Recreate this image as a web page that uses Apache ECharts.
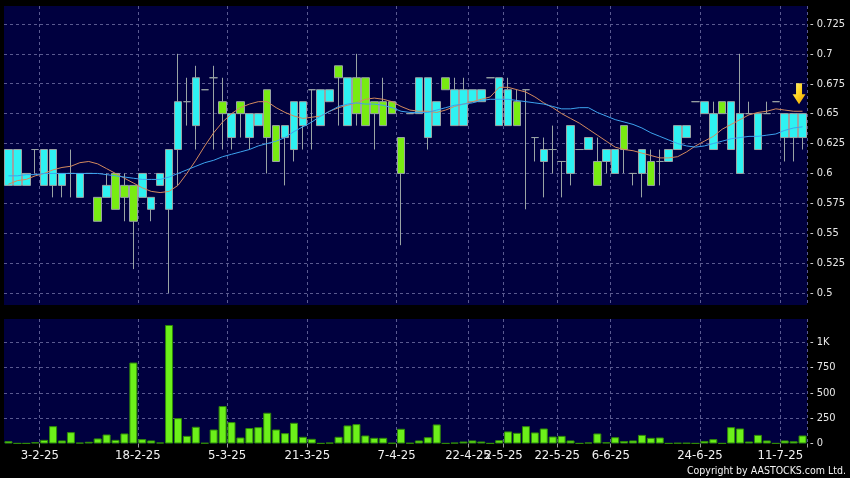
<!DOCTYPE html>
<html><head><meta charset="utf-8">
<script src="https://cdn.jsdelivr.net/npm/echarts@6/dist/echarts.min.js"></script>
<style>html,body{margin:0;padding:0;background:#000;}#c{width:850px;height:478px;}</style>
</head><body><div id="c"></div>
<script>
// ---- data (slot index = trading session) ----
const categories = Array.from({length: 90}, (_, i) => String(i));
const tickSlots  = [3, 14, 24, 33, 43, 51, 55, 61, 67, 77, 86];
const tickLabels = ['3-2-25','18-2-25','5-3-25','21-3-25','7-4-25','22-4-25','2-5-25','22-5-25','6-6-25','24-6-25','11-7-25'];
const priceTicks = [0.5, 0.525, 0.55, 0.575, 0.6, 0.625, 0.65, 0.675, 0.7, 0.725];
const volTicks   = [0, 250, 500, 750, 1000];

const opens  = [.59,.59,.59,.62,.59,.59,.59,.60,.58,.60, .58,.58,.60,.59,.59,.58,.57,.59,.57,.62,
                .66,.64,.67,.68,.66,.63,.66,.63,.64,.67, .64,.63,.62,.64,.67,.64,.66,.69,.64,.68,
                .68,.66,.66,.66,.63,.65,.65,.63,.64,.68, .64,.64,.66,.66,.68,.64,.64,.66,.67,.63,
                .61,.62,.61,.60,.62,.62,.61,.61,.60,.64, .60,.60,.61,.61,.61,.62,.63,.66,.65,.62,
                .66,.62,.60,.65,.62,.65,.66,.63,.63,.63];
const closes = [.62,.62,.60,.62,.62,.62,.60,.60,.60,.60, .56,.59,.57,.58,.56,.60,.58,.60,.62,.66,
                .66,.68,.67,.68,.65,.65,.65,.65,.65,.63, .61,.64,.66,.66,.67,.67,.67,.68,.68,.65,
                .64,.65,.64,.65,.60,.65,.68,.68,.66,.67, .67,.67,.67,.67,.68,.68,.67,.64,.67,.63,
                .62,.62,.61,.64,.62,.63,.59,.62,.62,.62, .60,.62,.59,.61,.62,.64,.64,.66,.66,.65,
                .65,.66,.65,.65,.65,.65,.66,.65,.65,.65];
const lows   = [.59,.59,.59,.60,.59,.58,.58,.58,.58,.60, .56,.58,.57,.56,.52,.58,.56,.59,.50,.59,
                .64,.62,.67,.62,.62,.62,.63,.62,.64,.60, .61,.59,.61,.62,.62,.64,.66,.64,.64,.64,
                .64,.62,.64,.65,.54,.65,.65,.62,.64,.67, .64,.64,.66,.66,.68,.64,.64,.64,.57,.61,
                .58,.60,.58,.59,.62,.62,.59,.60,.60,.60, .59,.58,.59,.59,.61,.62,.63,.66,.65,.62,
                .65,.62,.60,.65,.62,.65,.66,.61,.61,.62];
const highs  = [.62,.62,.60,.62,.62,.62,.60,.62,.60,.60, .58,.60,.60,.60,.59,.60,.58,.60,.62,.70,
                .68,.69,.67,.69,.68,.65,.66,.65,.65,.67, .64,.64,.66,.66,.67,.67,.67,.69,.68,.70,
                .68,.66,.68,.66,.63,.65,.68,.68,.66,.68, .68,.68,.67,.67,.68,.68,.68,.67,.67,.63,
                .63,.64,.61,.64,.62,.63,.63,.62,.62,.64, .60,.62,.62,.62,.62,.64,.64,.66,.66,.66,
                .66,.66,.70,.66,.65,.66,.66,.65,.65,.65];
const maShort = [.591,.594,.595,.598,.600,.603,.605,.606,.609,.610, .608,.604,.600,.596,.592,.588,.585,.584,.585,.590,
                 .600,.611,.623,.634,.643,.650,.655,.658,.660,.660, .655,.651,.648,.646,.647,.648,.652,.655,.657,.659,
                 .662,.663,.662,.660,.656,.653,.652,.652,.651,.653, .656,.658,.660,.662,.664,.672,.672,.670,.668,.664,
                 .659,.655,.650,.646,.642,.637,.632,.627,.622,.620, .619,.617,.615,.613,.613,.614,.618,.623,.627,.631,
                 .637,.641,.645,.649,.651,.652,.654,.653,.652,.652];
const maLong  = [.598,.598,.599,.599,.600,.600,.600,.600,.600,.600, .600,.599,.598,.597,.596,.595,.595,.595,.597,.600,
                 .603,.606,.609,.611,.614,.616,.618,.620,.623,.625, .627,.630,.635,.639,.643,.648,.652,.656,.658,.659,
                 .658,.658,.657,.655,.652,.651,.651,.651,.653,.655, .657,.658,.659,.661,.662,.662,.662,.661,.660,.659,
                 .658,.656,.654,.654,.655,.655,.651,.648,.645,.643, .641,.638,.634,.631,.628,.625,.623,.622,.623,.625,
                 .627,.629,.630,.631,.631,.632,.633,.636,.638,.639];
const volumes = [23,2,2,13,36,171,30,112,8,17, 50,89,36,99,798,43,30,10,1168,250,
                 75,165,5,138,369,211,59,152,161,303, 138,102,204,66,46,2,8,66,178,191,
                 79,56,56,5,145,5,30,62,188,2, 8,20,30,20,2,33,119,105,171,109,
                 148,69,75,30,2,10,99,12,62,25, 30,85,56,59,2,5,5,2,25,43,
                 2,161,148,20,85,30,2,30,22,79];
const markerSlot = 89, markerPrice = 0.6667;

// ---- chart ----
const FONT = "'DejaVu Sans Condensed','DejaVu Sans',sans-serif";
const gridCats = new Set(tickSlots.map(s => s + 1));
const labelMap = new Map(tickSlots.map((s, k) => [s, tickLabels[k]]));
const dash = {color: '#5a5a90', type: [3, 3], width: 1};
const candleData = opens.map((o, i) => [o, closes[i], lows[i], highs[i]]);
const fmtP = v => '- ' + String(parseFloat(v.toFixed(3)));
const fmtV = v => '- ' + (v >= 1000 ? (v / 1000) + 'K' : String(v));

const chart = echarts.init(document.getElementById('c'), null, {renderer: 'canvas'});
chart.setOption({
  backgroundColor: '#000',
  animation: false,
  grid: [
    {left: 4, top: 6, width: 803, height: 299, show: true, backgroundColor: '#00003f', borderWidth: 0},
    {left: 4, top: 319, width: 803, height: 124.5, show: true, backgroundColor: '#00003f', borderWidth: 0}
  ],
  xAxis: [
    {type: 'category', gridIndex: 0, data: categories, boundaryGap: true,
     axisLine: {show: false}, axisTick: {show: false}, axisLabel: {show: false},
     splitLine: {show: true, interval: i => gridCats.has(i), lineStyle: dash}},
    {type: 'category', gridIndex: 1, data: categories, boundaryGap: true,
     axisLine: {show: false},
     axisTick: {show: true, length: 4, interval: i => gridCats.has(i), lineStyle: {color: '#9a9a9a'}},
     axisLabel: {interval: i => labelMap.has(i), formatter: (v, i) => labelMap.get(i) || '',
                 color: '#f0f0f0', fontSize: 13, fontFamily: FONT, margin: 6, padding: [0, 0, 0, 9]},
     splitLine: {show: true, interval: i => gridCats.has(i), lineStyle: dash}}
  ],
  yAxis: [
    {type: 'value', gridIndex: 0, position: 'right', min: 0.49, max: 0.74, minInterval: 0.025, maxInterval: 0.025,
     axisLine: {show: false}, axisTick: {show: false},
     axisLabel: {formatter: fmtP, showMinLabel: false, showMaxLabel: false, color: '#e8e8e8', fontSize: 11, fontFamily: FONT, margin: 3},
     splitLine: {show: true, showMinLine: false, showMaxLine: false, lineStyle: dash}},
    {type: 'value', gridIndex: 1, position: 'right', min: 0, max: 1227, minInterval: 250, maxInterval: 250,
     axisLine: {show: false}, axisTick: {show: false},
     axisLabel: {formatter: fmtV, showMaxLabel: false, color: '#e8e8e8', fontSize: 11, fontFamily: FONT, margin: 3},
     splitLine: {show: true, showMinLine: false, showMaxLine: false, lineStyle: dash}}
  ],
  series: [
    {type: 'candlestick', xAxisIndex: 0, yAxisIndex: 0, data: candleData, barWidth: 8,
     itemStyle: {color: '#2ef2f2', color0: '#78ec12', borderColor: '#9aa4a4', borderColor0: '#9aa4a4', borderWidth: 1},
     markPoint: {
       symbol: 'path://M3.5,0 L9.5,0 L9.5,11 L13,11 L6.5,21 L0,11 L3.5,11 Z',
       symbolSize: [13, 21], symbolOffset: [-3.5, 0], label: {show: false},
       itemStyle: {color: {type: 'linear', x: 0, y: 0, x2: 1, y2: 1,
         colorStops: [{offset: 0, color: '#fff27a'}, {offset: 0.5, color: '#ffd21e'}, {offset: 1, color: '#e89a00'}]}},
       data: [{coord: [markerSlot, markerPrice]}]
     }},
    {type: 'line', xAxisIndex: 0, yAxisIndex: 0, data: maShort, symbol: 'none', lineStyle: {color: '#d48a5e', width: 1}, z: 3},
    {type: 'line', xAxisIndex: 0, yAxisIndex: 0, data: maLong, symbol: 'none', lineStyle: {color: '#3da3ee', width: 1}, z: 3},
    {type: 'bar', xAxisIndex: 1, yAxisIndex: 1, data: volumes, barWidth: 8,
     itemStyle: {color: '#6cf01a', borderColor: '#2f8a08', borderWidth: 1}}
  ],
  graphic: [
    {type: 'text', x: 846, y: 471, style: {text: 'Copyright by AASTOCKS.com Ltd.', fill: '#f4f4f4',
      font: "10.5px 'DejaVu Sans Condensed','DejaVu Sans',sans-serif", textAlign: 'right', textVerticalAlign: 'middle'}}
  ]
});
</script></body></html>
